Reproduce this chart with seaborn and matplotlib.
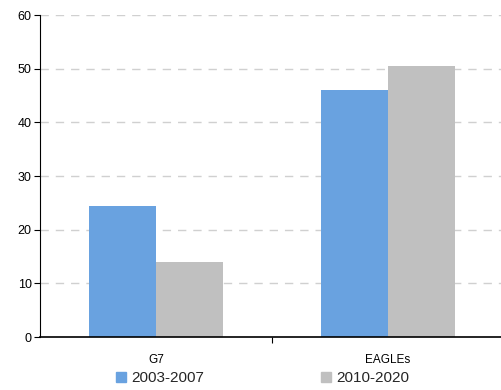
import pandas as pd
import matplotlib
matplotlib.use("Agg")
import matplotlib.pyplot as plt
import seaborn as sns
from matplotlib.lines import Line2D

# data
groups = ["G7", "EAGLEs"]
periods = ["2003-2007", "2010-2020"]
vals_2003_2007 = [24.4, 46.0]
vals_2010_2020 = [14.0, 50.5]
colors = ["#69A2E0", "#C0C0C0"]

df = pd.DataFrame({
    "group": groups * 2,
    "period": [periods[0]] * 2 + [periods[1]] * 2,
    "value": vals_2003_2007 + vals_2010_2020,
})

sns.set_style("white")
plt.rcParams["font.family"] = ["Liberation Sans", "DejaVu Sans"]

fig = plt.figure(figsize=(5.02, 3.9), dpi=100)
ax = fig.add_axes([40 / 502, 53 / 390, 464 / 502, 322 / 390])

sns.barplot(data=df, x="group", y="value", hue="period", order=groups,
            hue_order=periods, palette=colors, width=0.575, saturation=1,
            ax=ax, legend=False, linewidth=0)

ax.set_xlim(-0.5, 1.5)
ax.set_ylim(0, 60)
ax.set_yticks(range(0, 61, 10))
ax.set_xlabel("")
ax.set_ylabel("")
ax.set_axisbelow(True)
ax.yaxis.grid(True, color="#D0D0D0", linestyle=(0, (6, 5)), linewidth=1)
ax.xaxis.grid(False)

for s in ["top", "right"]:
    ax.spines[s].set_visible(False)
ax.spines["left"].set_color("black")
ax.spines["bottom"].set_color("black")
ax.spines["left"].set_linewidth(0.8)
ax.spines["bottom"].set_linewidth(1.2)

ax.tick_params(axis="y", left=True, length=4, width=0.8, direction="out",
               labelsize=9, pad=2, colors="black")
ax.tick_params(axis="x", bottom=False, labelsize=8.5, pad=9, colors="black")
ax.set_xticks([0.5], minor=True)
ax.tick_params(axis="x", which="minor", bottom=True, length=4, width=0.8,
               color="black")

# legend along the bottom
handles = [Line2D([], [], marker="s", linestyle="none", markersize=7.5,
                  markerfacecolor=c, markeredgecolor=c) for c in colors]
fig.legend(handles, periods, loc="center left", bbox_to_anchor=(115 / 502, 12 / 390),
           ncol=2, frameon=False, fontsize=11, handlelength=0.8,
           handletextpad=0.25, columnspacing=7.6, borderaxespad=0,
           borderpad=0)

fig.savefig("out.png", dpi=100)
